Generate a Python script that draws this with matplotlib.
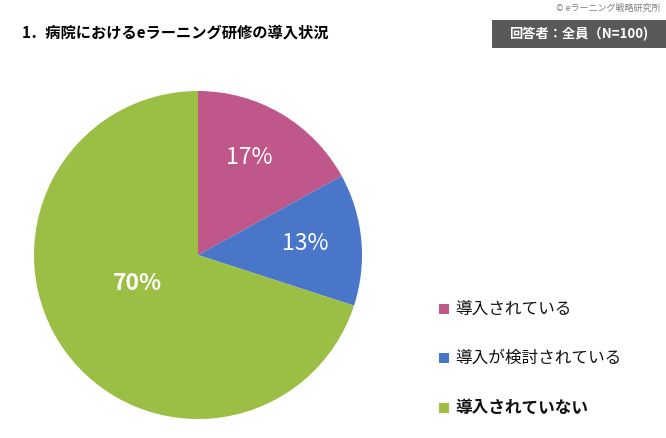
import matplotlib
matplotlib.use("Agg")
import matplotlib.pyplot as plt
from matplotlib.patches import Rectangle

plt.rcParams['font.family'] = ['Noto Sans CJK JP', 'DejaVu Sans']

labels = ["導入されている", "導入が検討されている", "導入されていない"]
values = [17, 13, 70]
colors = ["#C0578A", "#4A76C9", "#9BBF45"]
title = "1．病院におけるeラーニング研修の導入状況"
note = "回答者：全員（N=100)"
copyright_txt = "© eラーニング戦略研究所"

W, H = 666, 438
fig = plt.figure(figsize=(W/100, H/100), dpi=100)

cx, cy, r = 198, 255, 164
ax = fig.add_axes([(cx - r)/W, 1 - (cy + r)/H, 2*r/W, 2*r/H])
wedges, _ = ax.pie(values, colors=colors, startangle=90, counterclock=False,
                   wedgeprops=dict(linewidth=0), radius=1)
ax.set_xlim(-1, 1); ax.set_ylim(-1, 1)
ax.set_aspect('auto')
ax.axis('off')

# label positions (pixels)
lab_pos = [(249, 158), (305, 244), (137, 283)]
for (px, py), v, i in zip(lab_pos, values, range(3)):
    x = (px - cx) / r
    y = -(py - cy) / r
    ax.text(x, y, f"{v}%", color="white", fontsize=16.5, ha="center", va="center",
            fontweight="bold" if i == 2 else "normal")

fig.text(22/W, 1 - 33/H, title, fontsize=11, fontweight="bold", va="center", ha="left")
fig.patches.append(Rectangle((492/W, 1 - 48/H), (666-492)/W, 28/H, transform=fig.transFigure,
                             facecolor="#595959", edgecolor="none"))
fig.text(579/W, 1 - 34/H, note, fontsize=9.5, color="white", fontweight="bold", va="center", ha="center")
fig.text(660/W, 1 - 8/H, copyright_txt, fontsize=6.5, color="#808080", va="center", ha="right")

leg_y = [309, 358, 408]
for lab, c, yy, i in zip(labels, colors, leg_y, range(3)):
    fig.patches.append(Rectangle((439/W, 1 - (yy + 5)/H), 10/W, 10/H, transform=fig.transFigure,
                                 facecolor=c, edgecolor="none"))
    fig.text(455/W, 1 - yy/H, lab, fontsize=12, va="center", ha="left",
             fontweight="bold" if i == 2 else "normal", color="#111111")

fig.savefig("out.png", dpi=100)
